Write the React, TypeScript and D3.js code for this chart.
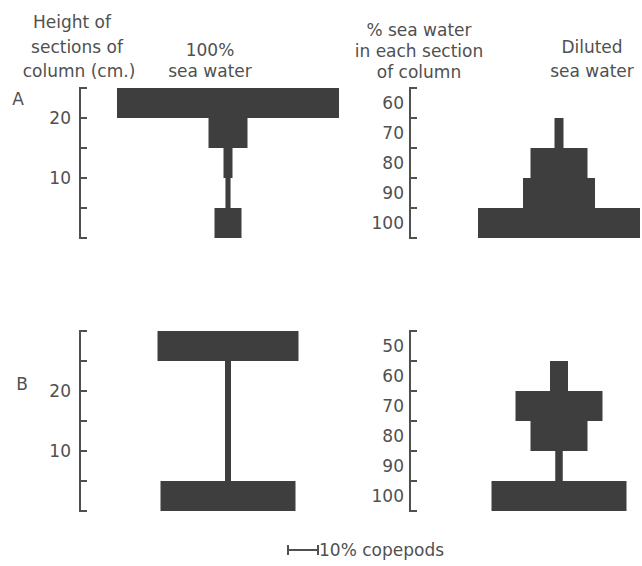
import React, { useRef, useEffect } from "react";
import * as d3 from "d3";

// section bottoms (cm), listed from bottom of column upwards
const sectionsA = [0, 5, 10, 15, 20];
const sectionsB = [0, 5, 10, 15, 20, 25];
const heightTicks = [10, 20];

// % copepods per section, bottom -> top
const seaWaterA = [9, 1.7, 3, 13, 74];
const dilutedA = [54, 24, 19, 3, 0];
const seaWaterB = [45, 2, 2, 2, 2, 47];
const dilutedB = [45, 2.5, 19, 29, 6, 0];

// % sea water labels per section, bottom -> top
const salinityA = [100, 90, 80, 70, 60];
const salinityB = [100, 90, 80, 70, 60, 50];

const scaleBarValue = 10;

const FONT = "'DejaVu Sans', sans-serif";
const INK = "#505050";
const BAR = "#3e3e3e";
const FS = 17;

const KiteChart: React.FC = () => {
  const ref = useRef<SVGSVGElement | null>(null);

  useEffect(() => {
    if (!ref.current) return;
    const svg = d3.select(ref.current);
    svg.selectAll("*").remove();

    // width scale: % copepods -> px
    const w = d3.scaleLinear().domain([0, 10]).range([0, 30]);

    const drawPanel = (
      axisX: number,
      centerX: number,
      top: number,
      bottom: number,
      sections: number[],
      values: number[],
      labels: number[] | null
    ) => {
      const maxCm = sections[sections.length - 1] + 5;
      const y = d3.scaleLinear().domain([0, maxCm]).range([bottom, top]);
      const g = svg.append("g");

      const tickVals = d3.range(0, maxCm + 1, 5);
      g.append("line")
        .attr("x1", axisX)
        .attr("x2", axisX)
        .attr("y1", y(0) + 1)
        .attr("y2", y(maxCm) - 1)
        .attr("stroke", INK)
        .attr("stroke-width", 2);
      g.selectAll("line.tick")
        .data(tickVals)
        .enter()
        .append("line")
        .attr("class", "tick")
        .attr("x1", axisX - 1)
        .attr("x2", axisX + 7)
        .attr("y1", (d) => y(d))
        .attr("y2", (d) => y(d))
        .attr("stroke", INK)
        .attr("stroke-width", 2);

      if (labels) {
        g.selectAll("text.lab")
          .data(sections)
          .enter()
          .append("text")
          .attr("class", "lab")
          .attr("x", axisX - 6)
          .attr("y", (d) => y(d + 2.5))
          .attr("dy", "0.36em")
          .attr("text-anchor", "end")
          .attr("font-family", FONT)
          .attr("font-size", FS)
          .attr("fill", INK)
          .text((_, i) => labels[i]);
      } else {
        g.selectAll("text.lab")
          .data(heightTicks)
          .enter()
          .append("text")
          .attr("class", "lab")
          .attr("x", axisX - 9)
          .attr("y", (d) => y(d))
          .attr("dy", "0.36em")
          .attr("text-anchor", "end")
          .attr("font-family", FONT)
          .attr("font-size", FS)
          .attr("fill", INK)
          .text((d) => d);
      }

      g.selectAll("rect")
        .data(sections.map((s, i) => ({ s, v: values[i] })).filter((d) => d.v > 0))
        .enter()
        .append("rect")
        .attr("x", (d) => centerX - w(d.v) / 2)
        .attr("width", (d) => w(d.v))
        .attr("y", (d) => y(d.s + 5))
        .attr("height", (d) => y(d.s) - y(d.s + 5))
        .attr("fill", BAR);
    };

    drawPanel(80, 228, 88, 238, sectionsA, seaWaterA, null);
    drawPanel(410, 559, 88, 238, sectionsA, dilutedA, salinityA);
    drawPanel(80, 228, 331, 511, sectionsB, seaWaterB, null);
    drawPanel(410, 559, 331, 511, sectionsB, dilutedB, salinityB);

    // multi-line headings as one text with tspans
    const block = (x: number, y0: number, lines: string[], gap: number, anchor = "middle") => {
      const t = svg
        .append("text")
        .attr("text-anchor", anchor)
        .attr("font-family", FONT)
        .attr("font-size", FS)
        .attr("fill", INK);
      lines.forEach((l, i) => {
        t.append("tspan").attr("x", x).attr("y", y0 + i * gap).text(l);
      });
      return t;
    };

    block(72, 28, ["Height of"], 0);
    block(77, 53, ["sections of"], 0);
    block(79, 77, ["column  (cm.)"], 0);
    block(210, 56, ["100%", "sea water"], 21);
    block(18, 105, ["A"], 0);
    block(22, 390, ["B"], 0);
    block(419, 36, ["% sea water", "in each section", "of column"], 21);
    block(592, 53, ["Diluted", "sea water"], 24);

    // scale bar
    const x0 = 288;
    const by = 550;
    svg
      .append("path")
      .attr(
        "d",
        `M${x0},${by - 5}V${by + 5}M${x0},${by}H${x0 + w(scaleBarValue)}M${x0 + w(scaleBarValue)},${by - 5}V${by + 5}`
      )
      .attr("stroke", INK)
      .attr("stroke-width", 2)
      .attr("fill", "none");
    block(x0 + w(scaleBarValue) + 1, by + 6, [`${scaleBarValue}% copepods`], 0, "start");
  }, []);

  return (
    <svg
      ref={ref}
      width={642}
      height={566}
      style={{ position: "absolute", left: 0, top: 0, background: "#fff" }}
    ></svg>
  );
};

export default function App() {
  return <KiteChart />;
}
